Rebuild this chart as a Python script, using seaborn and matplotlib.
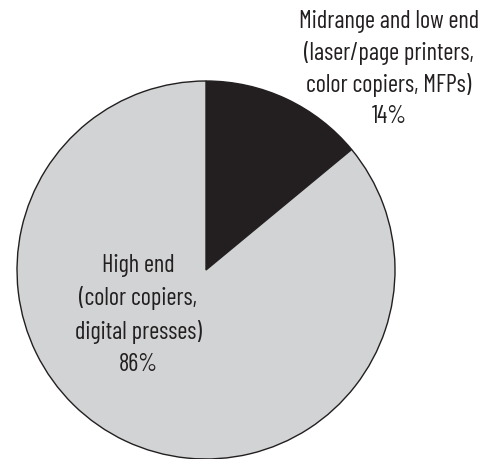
import matplotlib
matplotlib.use("Agg")
import matplotlib.pyplot as plt
import seaborn as sns

# Printer market share by segment
segments = ["Midrange and low end\n(laser/page printers,\ncolor copiers, MFPs)",
            "High end\n(color copiers,\ndigital presses)"]
shares = [14, 86]
colors = ["#231f20", "#d1d3d4"]

sns.set_theme(style="white")
plt.rcParams["font.family"] = ["Barlow Condensed", "DejaVu Sans"]

W, H = 490, 459
fig = plt.figure(figsize=(W / 100, H / 100), dpi=100)
ax = fig.add_axes([0, 0, 1, 1])

cx, cy, r = 206, H - 270, 189
ax.pie(shares, colors=colors, startangle=90, counterclock=False,
       center=(cx, cy), radius=r, frame=True,
       wedgeprops=dict(edgecolor="#231f20", linewidth=1.0))
ax.set_xlim(0, W)
ax.set_ylim(0, H)
ax.set_aspect("equal")
ax.axis("off")

label_pos = [(389, H - 69), (138, H - 315)]
spacing = [1.42, 1.5]
for text, val, (x, y), ls in zip(segments, shares, label_pos, spacing):
    ax.text(x, y, f"{text}\n{val}%", ha="center", va="center",
            fontsize=17.5, fontweight=400, color="#231f20", linespacing=ls)

fig.savefig("out.png", dpi=100)
